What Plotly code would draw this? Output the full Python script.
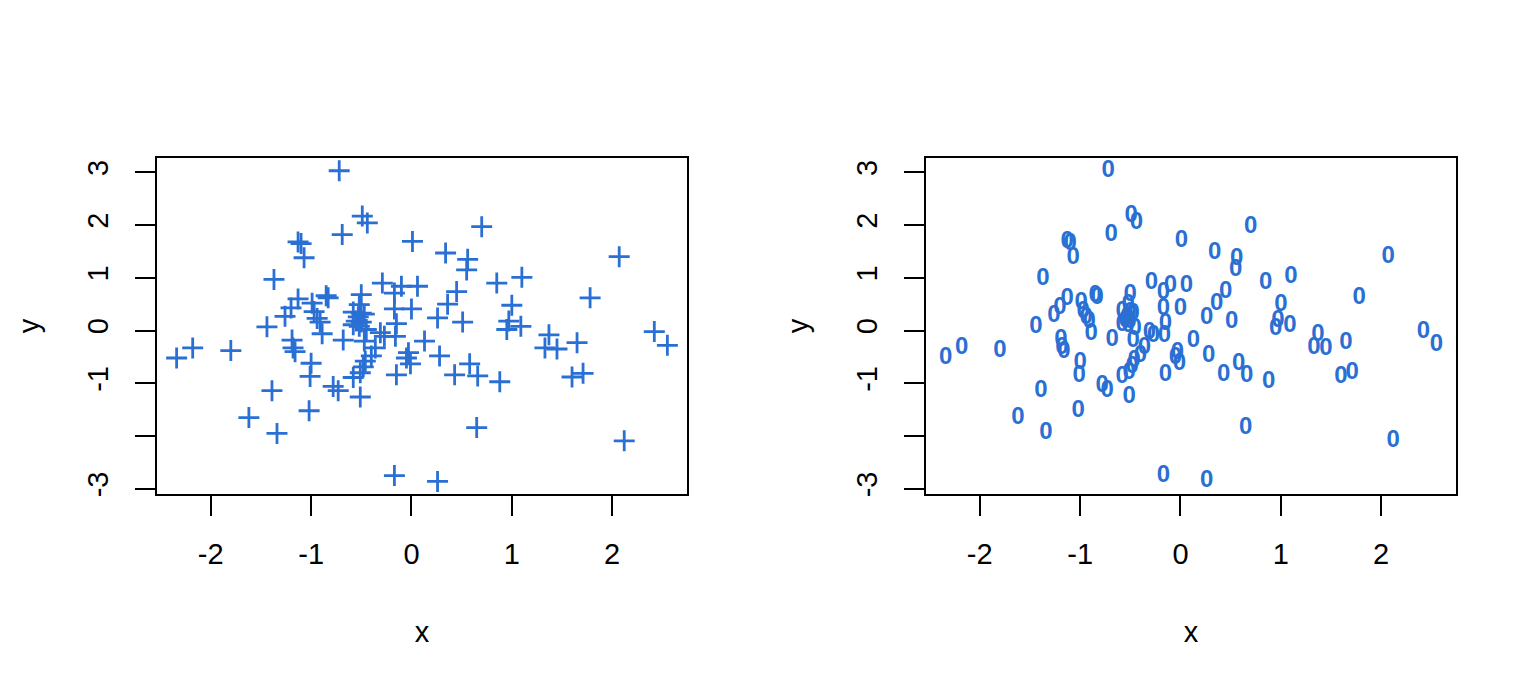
import plotly.graph_objects as go

# Data (same x/y in both panels)
x_vals = [-0.72, -0.49, -0.44, -0.69, -1.13, -1.10, -1.07, 0.01, 0.70, 0.34,
          0.56, 0.55, 2.07, 1.10, -1.37, -0.29, 0.85, -0.10, 0.06, 0.45,
          -0.17, -0.50, -0.85, -0.83, -1.13, 1.78, -0.99, 0.36, 1.00, -0.52,
          -1.20, -0.17, 0.00, -0.97, -0.58, -0.50, -0.47, -1.26, -0.53, 0.26,
          -0.94, -0.55, -0.91, -0.50, 0.51, 0.97, -0.15, -0.58, -0.52, -1.44,
          1.09, 0.95, -0.45, 2.42, -0.31, -0.27, -0.16, -0.89, 1.37, -0.68,
          -0.47, 0.13, -1.19, -1.18, -1.16, -2.34, -2.18, -1.80, 1.65, 2.55,
          1.33, 1.45, -0.36, -0.03, -0.05, -0.01, 0.28, -0.40, -0.46, -0.48,
          -0.51, -0.58, -1.00, -1.01, 0.58, -0.15, 0.43, 0.66, 0.88, 1.60,
          1.71, -0.78, -0.73, -1.39, -0.51, -1.02, -1.62, 0.65, -1.34, 2.12,
          -0.17, 0.26]
y_vals = [3.03, 2.17, 2.04, 1.82, 1.68, 1.65, 1.38, 1.69, 1.97, 1.47,
          1.35, 1.15, 1.40, 1.01, 0.97, 0.90, 0.90, 0.84, 0.84, 0.74,
          0.71, 0.68, 0.66, 0.62, 0.60, 0.62, 0.52, 0.50, 0.48, 0.49,
          0.43, 0.41, 0.41, 0.36, 0.35, 0.33, 0.31, 0.27, 0.26, 0.24,
          0.23, 0.18, 0.16, 0.16, 0.16, 0.18, 0.13, 0.11, 0.08, 0.07,
          0.08, 0.02, 0.02, -0.02, -0.04, -0.11, -0.11, -0.06, -0.08, -0.18,
          -0.20, -0.20, -0.18, -0.33, -0.40, -0.52, -0.33, -0.38, -0.23, -0.28,
          -0.33, -0.35, -0.33, -0.42, -0.52, -0.63, -0.48, -0.48, -0.58, -0.69,
          -0.80, -0.89, -0.62, -0.87, -0.63, -0.84, -0.84, -0.86, -0.97, -0.88,
          -0.81, -1.06, -1.14, -1.14, -1.26, -1.52, -1.65, -1.84, -1.95, -2.09,
          -2.75, -2.86]

x_ticks = [-2, -1, 0, 1, 2]
x_ticklabels = ["-2", "-1", "0", "1", "2"]
y_ticks = [-3, -2, -1, 0, 1, 2, 3]
y_ticklabels = ["-3", "", "-1", "0", "1", "2", "3"]

BLUE = "#2a6fd3"
FONT = "Liberation Sans, Arial, Helvetica, sans-serif"
FS = 29

def ext(v):
    lo, hi = min(v), max(v)
    d = (hi - lo) * 0.04
    return [lo - d, hi + d]

xr = ext(x_vals)
yr = ext(y_vals)

fig = go.Figure()
fig.add_trace(go.Scatter(
    x=x_vals, y=y_vals, mode="markers", xaxis="x", yaxis="y",
    marker=dict(symbol="cross-thin", size=15, color=BLUE,
                line=dict(color=BLUE, width=2.8)),
    showlegend=False, hoverinfo="skip"))
fig.add_trace(go.Scatter(
    x=x_vals, y=y_vals, mode="text", xaxis="x2", yaxis="y2",
    text=["<b>0</b>"] * len(x_vals), textposition="middle center",
    textfont=dict(family=FONT, size=24, color=BLUE),
    showlegend=False, hoverinfo="skip"))

W, H = 1536, 691
ydom = [1 - 496 / H, 1 - 159 / H]

def xaxis(dom, anchor):
    return dict(domain=dom, anchor=anchor, range=xr, tickmode="array",
                tickvals=x_ticks, ticktext=x_ticklabels, ticks="outside",
                ticklen=20, tickwidth=2, tickcolor="black", showline=True,
                linecolor="black", linewidth=2, mirror=True, showgrid=False,
                zeroline=False, ticklabelstandoff=13,
                tickfont=dict(family=FONT, size=FS, color="black"),
                title=dict(text="x", font=dict(family=FONT, size=FS, color="black"),
                           standoff=53))

def yaxis(anchor):
    return dict(domain=ydom, anchor=anchor, range=yr, tickmode="array",
                tickvals=y_ticks, ticktext=y_ticklabels, ticks="outside",
                ticklen=20, tickwidth=2, tickcolor="black", showline=True,
                linecolor="black", linewidth=2, mirror=True, showgrid=False,
                zeroline=False, tickangle=-90, ticklabelstandoff=15,
                tickfont=dict(family=FONT, size=FS, color="black"),
                title=dict(text="y", font=dict(family=FONT, size=FS, color="black"),
                           standoff=34))

fig.update_layout(
    width=W, height=H, margin=dict(l=0, r=0, t=0, b=0),
    paper_bgcolor="white", plot_bgcolor="white",
    xaxis=xaxis([157 / W, 687 / W], "y"),
    yaxis=yaxis("x"),
    xaxis2=xaxis([926 / W, 1456 / W], "y2"),
    yaxis2=yaxis("x2"),
)

fig.write_html("out.html")
